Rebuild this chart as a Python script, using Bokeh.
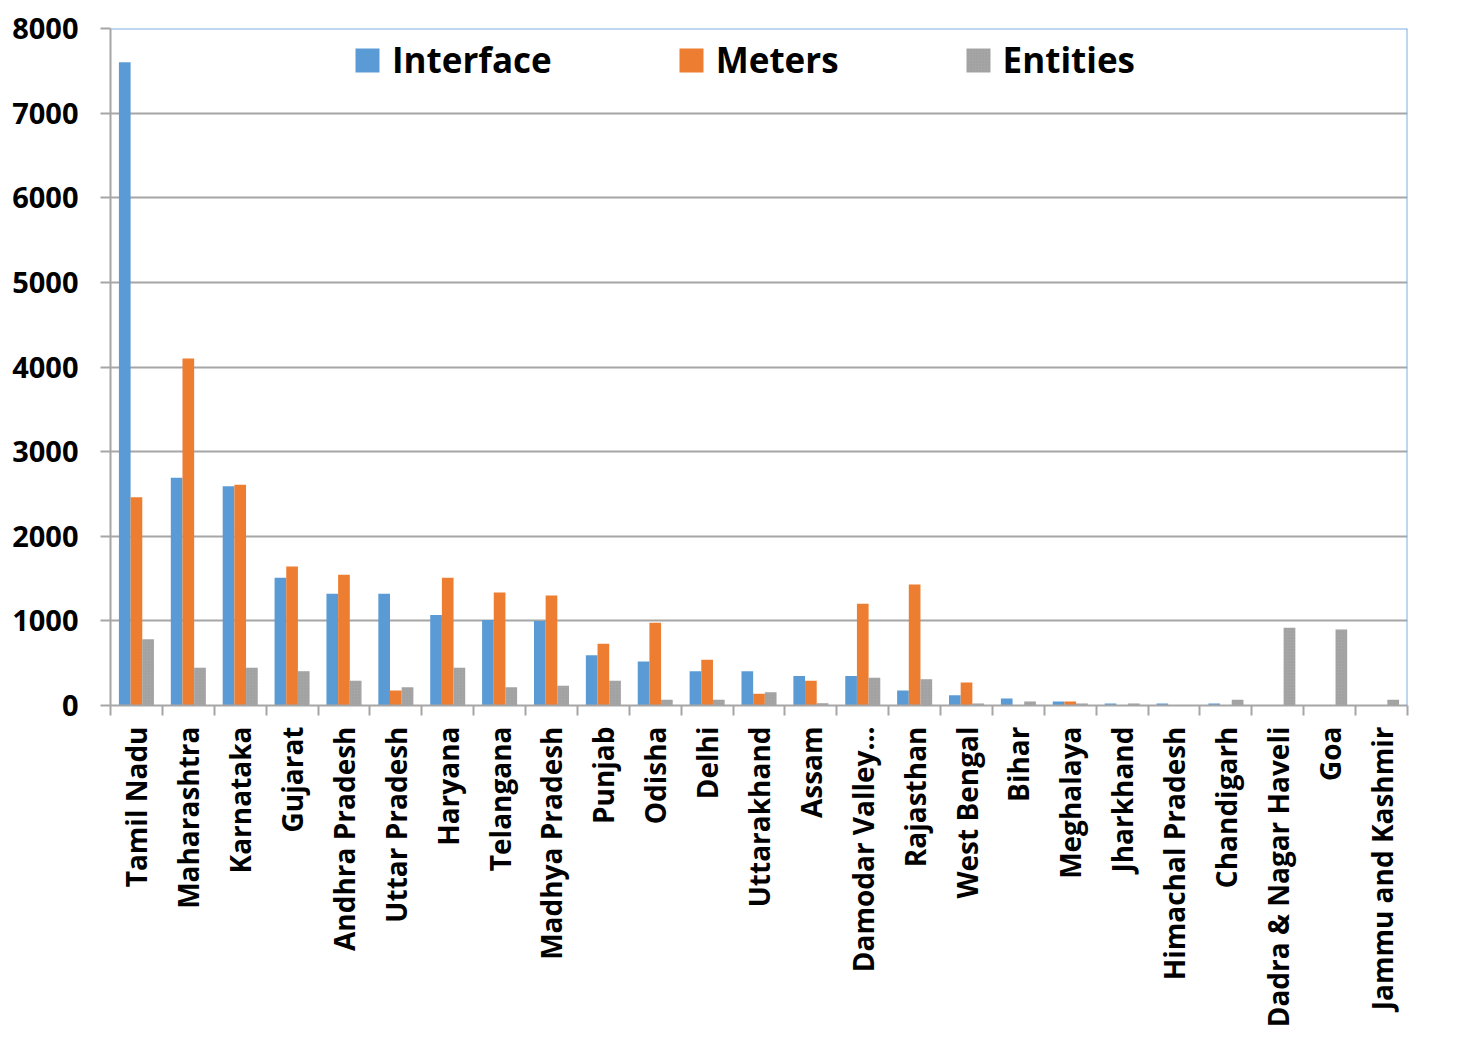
import numpy as np
from bokeh.plotting import figure
from bokeh.models import (ColumnDataSource, FixedTicker, Legend, LegendItem,
                          Span, Range1d)
from bokeh.transform import dodge
from bokeh.embed import file_html
from bokeh.resources import INLINE

# Counts per state / region
regions = [
    "Tamil Nadu", "Maharashtra", "Karnataka", "Gujarat", "Andhra Pradesh",
    "Uttar Pradesh", "Haryana", "Telangana", "Madhya Pradesh", "Punjab",
    "Odisha", "Delhi", "Uttarakhand", "Assam", "Damodar Valley...",
    "Rajasthan", "West Bengal", "Bihar", "Meghalaya", "Jharkhand",
    "Himachal Pradesh", "Chandigarh", "Dadra & Nagar Haveli", "Goa",
    "Jammu and Kashmir",
]
interface = [7600, 2690, 2590, 1510, 1320, 1320, 1070, 1010, 1000, 595,
             520, 405, 405, 350, 350, 177, 122, 83, 47, 24,
             24, 24, 0, 0, 0]
meters = [2460, 4100, 2610, 1643, 1545, 177, 1509, 1336, 1300, 729,
          977, 540, 138, 292, 1202, 1430, 272, 0, 47, 0,
          0, 0, 0, 0, 0]
entities = [784, 445, 445, 405, 292, 217, 445, 217, 233, 292,
            67, 67, 158, 27, 327, 311, 24, 47, 24, 24,
            0, 67, 918, 898, 67]

y_ticks = [0, 1000, 2000, 3000, 4000, 5000, 6000, 7000, 8000]

BLUE = "#5b9bd5"
ORANGE = "#ed7d31"
GREY = "#a5a5a5"
AXIS_GREY = "#a6a6a6"
FONT = "Open Sans"

n = len(regions)
centers = [i + 0.5 for i in range(n)]

src = ColumnDataSource(dict(x=centers, interface=interface,
                            meters=meters, entities=entities))

p = figure(width=1460, height=1052, output_backend="svg", toolbar_location=None,
           x_range=Range1d(0, n), y_range=Range1d(0, 8000),
           min_border_left=110, min_border_right=53,
           min_border_top=28, min_border_bottom=347)
p.outline_line_color = None
p.background_fill_color = "white"
p.border_fill_color = "white"

bw = 0.225
r1 = p.vbar(x=dodge("x", -bw, range=p.x_range), top="interface", width=bw,
            source=src, fill_color=BLUE, line_color=None)
r2 = p.vbar(x=dodge("x", 0, range=p.x_range), top="meters", width=bw,
            source=src, fill_color=ORANGE, line_color=None)
r3 = p.vbar(x=dodge("x", bw, range=p.x_range), top="entities", width=bw,
            source=src, fill_color=GREY, line_color=None,
            hatch_pattern="dot", hatch_color="#8f8f8f", hatch_scale=3,
            hatch_alpha=0.5, hatch_weight=1)

# grid
p.xgrid.grid_line_color = None
p.ygrid.grid_line_color = AXIS_GREY
p.ygrid.grid_line_width = 2

# y axis
p.yaxis.ticker = FixedTicker(ticks=y_ticks)
p.yaxis.axis_line_color = AXIS_GREY
p.yaxis.axis_line_width = 2
p.yaxis.major_tick_line_color = AXIS_GREY
p.yaxis.major_tick_line_width = 2
p.yaxis.major_tick_out = 10
p.yaxis.major_tick_in = 0
p.yaxis.minor_tick_line_color = None
p.yaxis.major_label_standoff = 22
p.yaxis.major_label_text_font = FONT
p.yaxis.major_label_text_font_style = "bold"
p.yaxis.major_label_text_font_size = "29px"
p.yaxis.major_label_text_color = "black"

# x axis: labels at category centres, tick marks between categories
p.xaxis.ticker = FixedTicker(ticks=centers, minor_ticks=list(range(n + 1)))
p.xaxis.major_label_overrides = {c: name for c, name in zip(centers, regions)}
p.xaxis.major_label_orientation = np.pi / 2
p.xaxis.axis_line_color = AXIS_GREY
p.xaxis.axis_line_width = 2
p.xaxis.major_tick_line_color = None
p.xaxis.major_tick_out = 0
p.xaxis.major_tick_in = 0
p.xaxis.minor_tick_line_color = AXIS_GREY
p.xaxis.minor_tick_line_width = 2
p.xaxis.minor_tick_out = 10
p.xaxis.minor_tick_in = 0
p.xaxis.major_label_standoff = 11
p.xaxis.major_label_text_font = FONT
p.xaxis.major_label_text_font_style = "bold"
p.xaxis.major_label_text_font_size = "28px"
p.xaxis.major_label_text_color = "black"

# blue frame lines at top and right
p.add_layout(Span(location=8000, dimension="width", line_color="#7eaee0",
                  line_width=2))
p.add_layout(Span(location=n, dimension="height", line_color="#7eaee0",
                  line_width=2))

legend = Legend(items=[LegendItem(label="Interface", renderers=[r1]),
                       LegendItem(label="Meters", renderers=[r2]),
                       LegendItem(label="Entities", renderers=[r3])],
                orientation="horizontal", location=(242, 622),
                padding=0, margin=0, spacing=124,
                glyph_width=30, glyph_height=30, label_standoff=10,
                label_text_font=FONT, label_text_font_style="bold",
                label_text_font_size="35px", label_text_color="black",
                border_line_color=None, background_fill_alpha=0)
p.add_layout(legend)

open("out.html", "w").write(file_html(p, INLINE))
